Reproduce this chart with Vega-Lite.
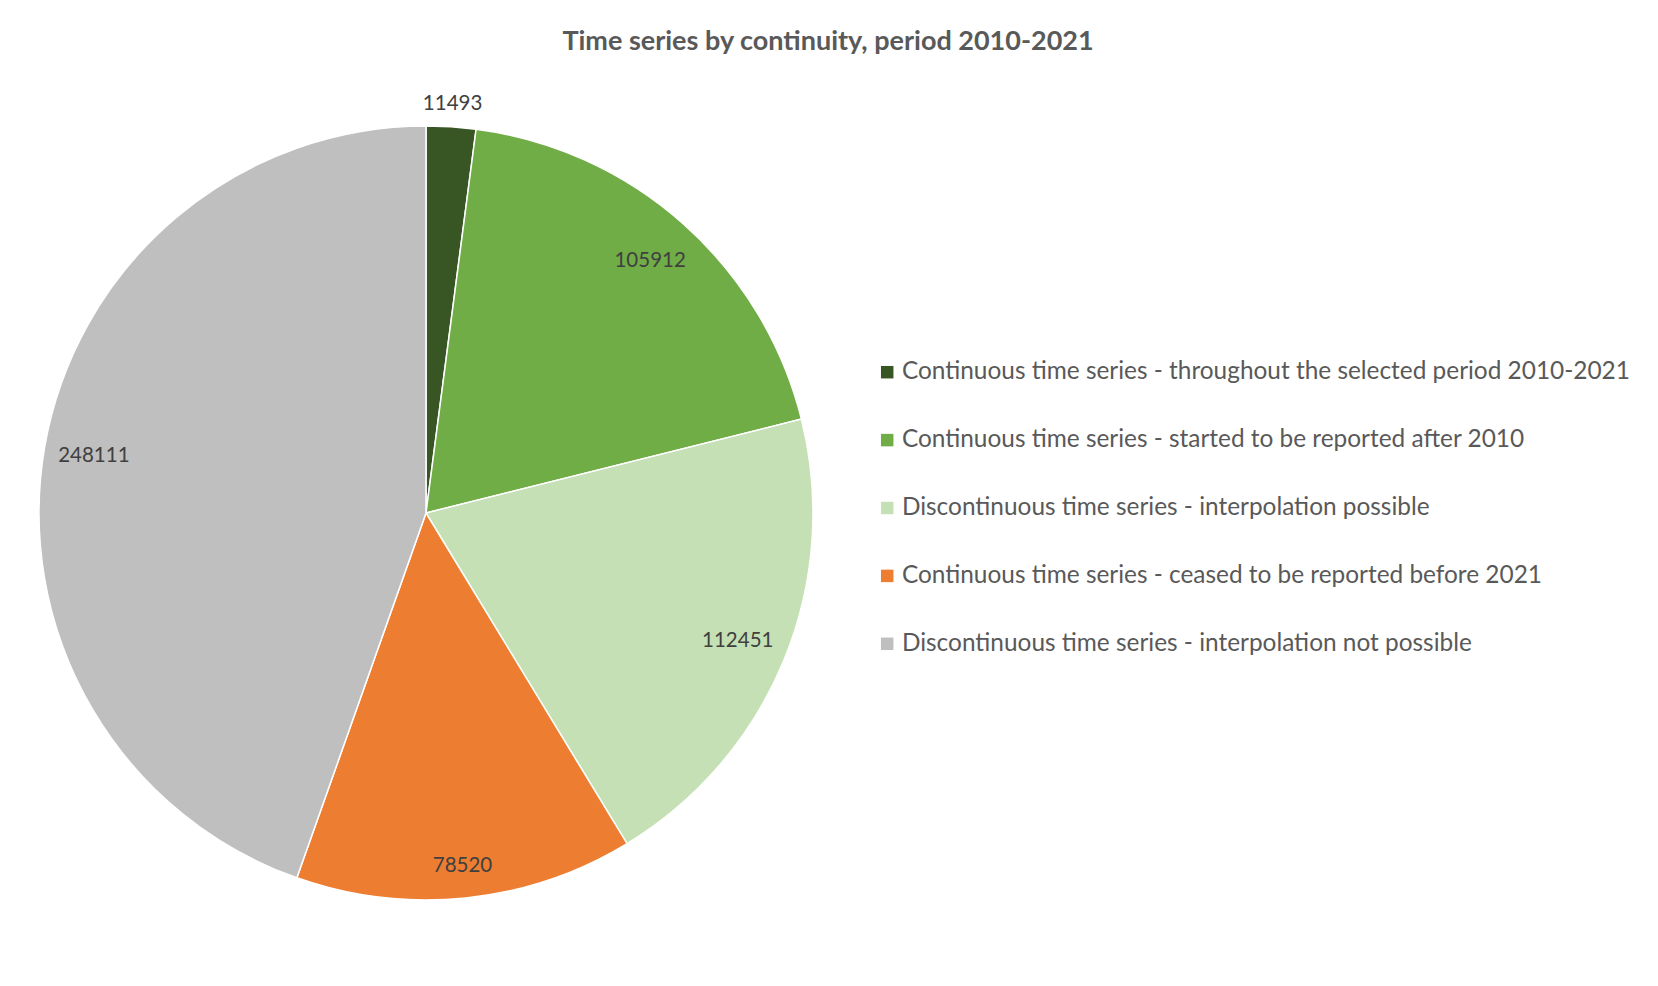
{
  "$schema": "https://vega.github.io/schema/vega-lite/v6.json",
  "autosize": {"type": "none"},
  "width": 852,
  "height": 826,
  "padding": {"left": 0, "top": 100, "right": 806, "bottom": 60},
  "background": "white",
  "title": {
    "text": "Time series by continuity, period 2010-2021",
    "font": "Lato",
    "fontSize": 27,
    "fontWeight": "bold",
    "color": "#595959",
    "frame": "bounds",
    "anchor": "middle",
    "dx": 13,
    "offset": 38
  },
  "data": {
    "values": [
      {"category": "Continuous time series - throughout the selected period 2010-2021", "value": 11493, "order": 1},
      {"category": "Continuous time series - started to be reported after 2010", "value": 105912, "order": 2},
      {"category": "Discontinuous time series - interpolation possible", "value": 112451, "order": 3},
      {"category": "Continuous time series - ceased to be reported before 2021", "value": 78520, "order": 4},
      {"category": "Discontinuous time series - interpolation not possible", "value": 248111, "order": 5}
    ]
  },
  "encoding": {
    "theta": {"field": "value", "type": "quantitative", "stack": true},
    "order": {"field": "order", "type": "quantitative"}
  },
  "layer": [
    {
      "mark": {"type": "arc", "outerRadius": 387, "stroke": "white", "strokeWidth": 1.5},
      "encoding": {
        "color": {
          "field": "category",
          "type": "nominal",
          "sort": null,
          "scale": {
            "domain": [
              "Continuous time series - throughout the selected period 2010-2021",
              "Continuous time series - started to be reported after 2010",
              "Discontinuous time series - interpolation possible",
              "Continuous time series - ceased to be reported before 2021",
              "Discontinuous time series - interpolation not possible"
            ],
            "range": ["#375623", "#70AD47", "#C5E0B4", "#ED7D31", "#BFBFBF"]
          },
          "legend": {
            "title": null,
            "orient": "none",
            "legendX": 875,
            "legendY": 260,
            "padding": 0,
            "symbolType": "square",
            "symbolSize": 156,
            "symbolStrokeWidth": 0,
            "labelFont": "Lato",
            "labelFontSize": 24.4,
            "labelColor": "#595959",
            "labelOffset": 2.5,
            "labelLimit": 1200,
            "rowPadding": 42.9
          }
        }
      }
    },
    {
      "mark": {"type": "text", "radius": 337, "font": "Lato", "fontSize": 20.5, "color": "#404040"},
      "encoding": {
        "text": {"condition": {"test": "datum.order == 2 || datum.order == 3 || datum.order == 5", "field": "value", "type": "quantitative", "format": "d"}, "value": ""}
      }
    },
    {
      "mark": {"type": "text", "radius": 355, "font": "Lato", "fontSize": 20.5, "color": "#404040"},
      "encoding": {
        "text": {"condition": {"test": "datum.order == 4", "field": "value", "type": "quantitative", "format": "d"}, "value": ""}
      }
    },
    {
      "mark": {"type": "text", "radius": 410, "font": "Lato", "fontSize": 20.5, "color": "#404040"},
      "encoding": {
        "text": {"condition": {"test": "datum.order == 1", "field": "value", "type": "quantitative", "format": "d"}, "value": ""}
      }
    }
  ],
  "config": {"view": {"stroke": null}}
}
